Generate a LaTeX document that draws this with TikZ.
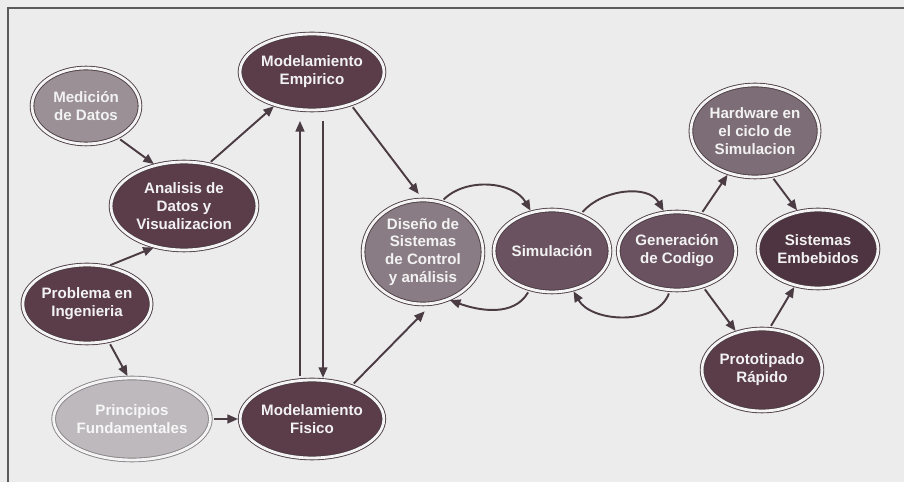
\documentclass[tikz,border=0pt]{standalone}
\usepackage{fontspec}
\setmainfont{Liberation Sans}
\usepackage{xcolor}
\usepackage{tikz}
\usetikzlibrary{arrows.meta,shapes.geometric}
\definecolor{mdPage}{HTML}{ECECEC}
\definecolor{mdFrame}{HTML}{5A5A5A}
\definecolor{mdInk}{HTML}{4B3B42}
\definecolor{mdDark}{HTML}{5B3D49}
\definecolor{mdDeep}{HTML}{4E3340}
\definecolor{mdPlum}{HTML}{6A5260}
\definecolor{mdMid}{HTML}{8A7C84}
\definecolor{mdSoft}{HTML}{9A9095}
\definecolor{mdHw}{HTML}{7D6D76}
\definecolor{mdLight}{HTML}{BEB9BC}
\definecolor{mdRing}{HTML}{F4F4F4}
\tikzset{
  % Base ellipse with double border
  ebox/.style={ellipse,inner sep=0pt,align=center,
    draw=mdInk,line width=0.5pt,double=mdRing,double distance=1.6pt,
    font=\fontsize{8.6}{10.2}\selectfont\bfseries,text=white!95!black},
  % Dark ellipse
  dkell/.style={ebox,fill=mdDark},
  % Medium ellipse
  mdell/.style={ebox,fill=mdMid},
  % Light ellipse
  ltell/.style={ebox,fill=mdLight,draw=mdLight!70!black,text=white!88!mdLight},
  % Arrows
  arr/.style={-{Triangle[length=6pt,width=5pt]},line width=1.1pt,color=mdInk,
    shorten <=2pt,shorten >=1pt},
}
\begin{document}
\begin{tikzpicture}[x=0.02cm,y=-0.02cm]
  \useasboundingbox (0,0) rectangle (904,482);
  \fill[mdPage] (0,0) rectangle (904,482);
  \draw[mdFrame,line width=1pt] (8,482) -- (8,8) -- (904,8);

  \node[mdell,fill=mdSoft,minimum width=2.16cm,minimum height=1.52cm] (med) at (86,106) {Medición\\de Datos};
  \node[dkell,minimum width=2.88cm,minimum height=1.52cm] (emp) at (312,72) {Modelamiento\\Empirico};
  \node[dkell,minimum width=2.92cm,minimum height=1.76cm] (ana) at (184,206) {Analisis de\\Datos y\\Visualizacion};
  \node[dkell,minimum width=2.48cm,minimum height=1.56cm] (pro) at (87,304) {Problema en\\Ingenieria};
  \node[ltell,minimum width=2.96cm,minimum height=1.64cm] (pri) at (132,419) {Principios\\Fundamentales};
  \node[dkell,minimum width=2.80cm,minimum height=1.56cm] (fis) at (312,419) {Modelamiento\\Fisico};
  \node[mdell,minimum width=2.40cm,minimum height=2.08cm] (dis) at (423,252) {Diseño de\\Sistemas\\de Control\\y análisis};
  \node[dkell,fill=mdPlum,minimum width=2.32cm,minimum height=1.64cm] (sim) at (552,251) {Simulación};
  \node[dkell,fill=mdPlum,minimum width=2.20cm,minimum height=1.56cm] (gen) at (677,251) {Generación\\de Codigo};
  \node[mdell,fill=mdHw,minimum width=2.52cm,minimum height=1.84cm] (hw) at (755,131) {Hardware en\\el ciclo de\\Simulacion};
  \node[dkell,fill=mdDeep,minimum width=2.40cm,minimum height=1.56cm] (emb) at (818,249) {Sistemas\\Embebidos};
  \node[dkell,minimum width=2.32cm,minimum height=1.64cm] (prt) at (762,370) {Prototipado\\Rápido};

  \draw[arr] (med.-45) -- (ana.125);
  \draw[arr] (ana.60) -- (emp.222);
  \draw[arr] (pro.62) -- (ana.-125);
  \draw[arr] (pro.-60) -- (pri.95);
  \draw[arr] (pri.east) -- (fis.west);
  \draw[arr,shorten >=6pt] ([xshift=-0.24cm]fis.north) -- ([xshift=-0.24cm]emp.south);
  \draw[arr,shorten <=6pt] ([xshift=0.22cm]emp.south) -- ([xshift=0.22cm]fis.north);
  \draw[arr,shorten >=4pt] (emp.-40) -- (dis.north);
  \draw[arr,shorten >=6pt] (fis.40) -- (dis.-80);
  \draw[arr] (dis.70) to[out=45,in=120] (sim.118);
  \draw[arr] (sim.-120) to[out=-120,in=-20] (dis.-62);
  \draw[arr] (sim.52) to[out=50,in=120] (gen.108);
  \draw[arr] (gen.-100) to[out=-110,in=-60] (sim.-62);
  \draw[arr] (gen.57) -- (hw.-122);
  \draw[arr] (hw.-70) -- (emb.118);
  \draw[arr] (gen.-54) -- (prt.124);
  \draw[arr] (prt.80) -- (emb.-122);
\end{tikzpicture}
\end{document}
